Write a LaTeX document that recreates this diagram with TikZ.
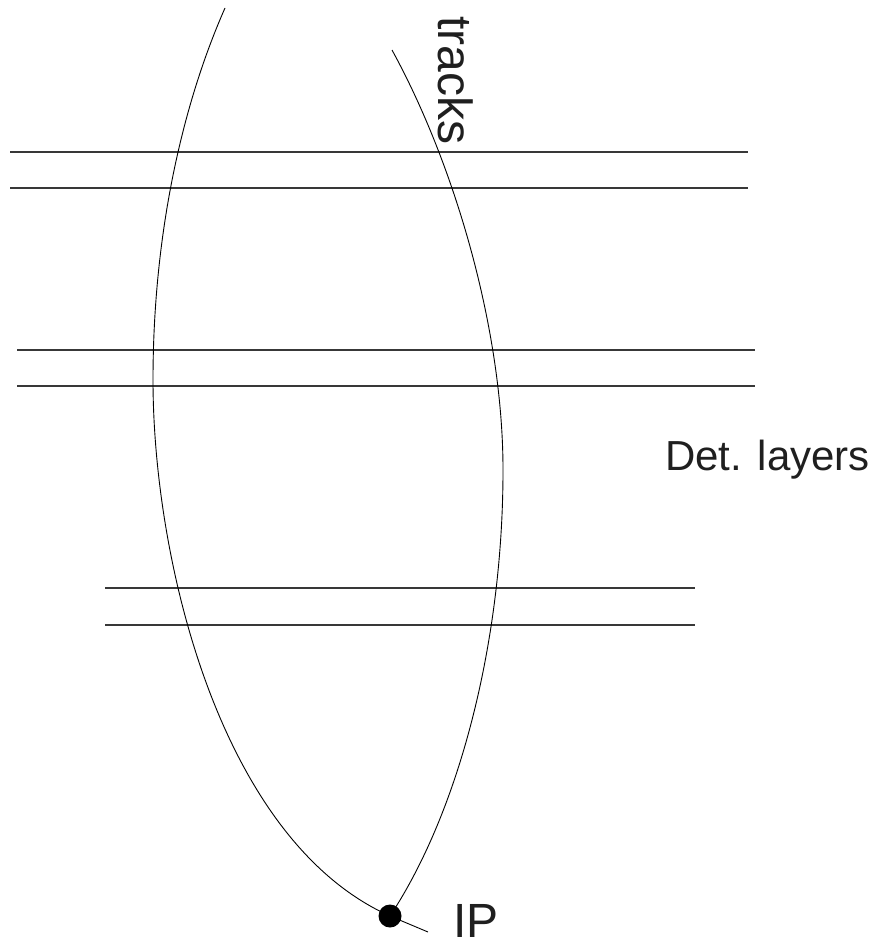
\documentclass[tikz,border=0pt]{standalone}
\usepackage{fontspec}
\setmainfont{Liberation Sans}
\usepackage{tikz}
\tikzset{
  layer/.style={line width=1.5pt, black!78},
  track/.style={line width=0.9pt, black},
  vertex/.style={circle, fill=black, inner sep=0pt, minimum size=23pt},
  lbl/.style={inner sep=0pt, text=black!88, font=\fontsize{42}{48}\selectfont},
}

\begin{document}
\begin{tikzpicture}[x=1pt, y=-1pt]
  \useasboundingbox (0,0) rectangle (873,944);

  % Detector layers
  \foreach \xa/\xb/\y in {10/748/152,10/748/188,17/755/350,17/755/386,105/695/588,105/695/625} {
    \draw[layer] (\xa,\y) -- (\xb,\y);
  }

  \node[vertex] (IP) at (390,916) {};
  \coordinate (tail) at (428,932);
  \coordinate (lend) at (225,8);
  \coordinate (rend) at (392,50);

  % Tracks
  \draw[track] (IP.center) .. controls (220,840) and (153,560) .. (153,380)
    .. controls (153,240) and (180,110) .. (lend);
  \draw[track] (IP.center) .. controls (460,810) and (503,640) .. (503,470)
    .. controls (503,330) and (455,165) .. (rend);
  \draw[track] (IP.center) -- (tail);

  \node[lbl, rotate=-90, anchor=base west, font=\fontsize{48}{54}\selectfont] (trk) at (438,16) {tracks};
  \node[lbl, anchor=base west] (det) at (665,470) {Det. layers};
  \node[lbl, anchor=base west, font=\fontsize{48}{54}\selectfont] (iplbl) at (453,937) {IP};
\end{tikzpicture}
\end{document}
